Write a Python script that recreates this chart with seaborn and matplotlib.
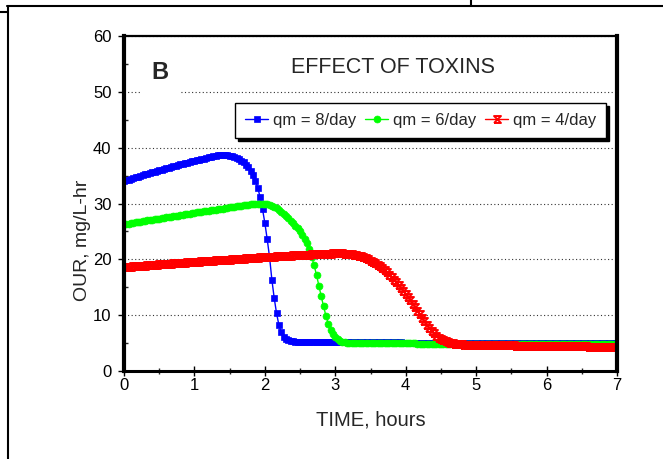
import matplotlib
matplotlib.use("Agg")
import matplotlib.pyplot as plt
from matplotlib.lines import Line2D
from matplotlib.path import Path
from matplotlib.ticker import MultipleLocator
import pandas as pd
import seaborn as sns

# ---------------- data ----------------
TIME_STEP_H = 2 / 60          # model output sampled every 2 minutes
SERIES = ["qm = 8/day", "qm = 6/day", "qm = 4/day"]
COLORS = ["#0000FF", "#00FF00", "#FF0000"]

OUR_QM8 = [
    34.00, 34.14, 34.28, 34.42, 34.55, 34.69, 34.82, 34.95, 35.08, 35.21, 35.34, 35.47, 35.59, 35.72, 35.84,
    35.96, 36.08, 36.20, 36.32, 36.44, 36.56, 36.67, 36.78, 36.90, 37.01, 37.12, 37.23, 37.33, 37.44, 37.55,
    37.65, 37.75, 37.85, 37.95, 38.05, 38.15, 38.25, 38.34, 38.44, 38.53, 38.60, 38.65, 38.68, 38.68, 38.65,
    38.58, 38.48, 38.35, 38.17, 37.95, 37.68, 37.35, 36.95, 36.45, 35.85, 35.10, 34.10, 32.80, 31.10, 29.00,
    26.50, 23.60, 20.40, 16.30, 13.00, 10.30, 8.20, 6.90, 6.10, 5.70, 5.48, 5.36, 5.30, 5.26, 5.24,
    5.22, 5.21, 5.21, 5.21, 5.20, 5.20, 5.20, 5.20, 5.19, 5.19, 5.19, 5.19, 5.18, 5.18, 5.18,
    5.18, 5.17, 5.17, 5.17, 5.17, 5.16, 5.16, 5.16, 5.16, 5.15, 5.15, 5.15, 5.15, 5.14, 5.14,
    5.14, 5.14, 5.13, 5.13, 5.13, 5.13, 5.12, 5.12, 5.12, 5.12, 5.11, 5.11, 5.11, 5.11, 5.10,
    5.10, 5.10, 5.10, 5.09, 5.09, 5.09, 5.09, 5.08, 5.08, 5.08, 5.08, 5.07, 5.07, 5.07, 5.07,
    5.06, 5.06, 5.06, 5.06, 5.05, 5.05, 5.05, 5.05, 5.04, 5.04, 5.04, 5.04, 5.04, 5.03, 5.03,
    5.03, 5.03, 5.03, 5.02, 5.02, 5.02, 5.02, 5.02, 5.02, 5.01, 5.01, 5.01, 5.01, 5.01, 5.01,
    5.01, 5.01, 5.00, 5.00, 5.00, 5.00, 5.00, 5.00, 5.00, 5.00, 4.99, 4.99, 4.99, 4.99, 4.99,
    4.99, 4.99, 4.99, 4.99, 4.98, 4.98, 4.98, 4.98, 4.98, 4.98, 4.98, 4.98, 4.98, 4.97, 4.97,
    4.97, 4.97, 4.97, 4.97, 4.97, 4.97, 4.97, 4.97, 4.96, 4.96, 4.96, 4.96, 4.96, 4.96, 4.96,
    4.96,
]

OUR_QM6 = [
    26.25, 26.32, 26.39, 26.46, 26.54, 26.61, 26.68, 26.75, 26.82, 26.89, 26.96, 27.03, 27.10, 27.17, 27.24,
    27.31, 27.38, 27.44, 27.51, 27.58, 27.65, 27.72, 27.78, 27.85, 27.92, 27.99, 28.05, 28.12, 28.19, 28.25,
    28.32, 28.39, 28.45, 28.52, 28.58, 28.65, 28.71, 28.78, 28.84, 28.91, 28.97, 29.04, 29.10, 29.16, 29.23,
    29.29, 29.35, 29.41, 29.47, 29.53, 29.60, 29.66, 29.72, 29.78, 29.84, 29.89, 29.93, 29.96, 29.98, 29.98,
    29.95, 29.85, 29.72, 29.56, 29.36, 29.12, 28.85, 28.55, 28.20, 27.80, 27.38, 26.95, 26.50, 26.05, 25.55,
    25.00, 24.40, 23.70, 22.90, 21.80, 20.40, 18.90, 17.20, 15.30, 13.40, 11.60, 9.90, 8.50, 7.40, 6.60,
    6.05, 5.70, 5.45, 5.25, 5.15, 5.08, 5.04, 5.02, 5.01, 5.00, 5.00, 5.00, 4.99, 4.99, 4.99,
    4.99, 4.98, 4.98, 4.98, 4.97, 4.97, 4.97, 4.96, 4.96, 4.96, 4.95, 4.95, 4.95, 4.95, 4.94,
    4.94, 4.94, 4.93, 4.93, 4.93, 4.92, 4.92, 4.92, 4.92, 4.91, 4.91, 4.91, 4.90, 4.90, 4.90,
    4.90, 4.89, 4.89, 4.89, 4.89, 4.88, 4.88, 4.88, 4.88, 4.87, 4.87, 4.87, 4.87, 4.86, 4.86,
    4.86, 4.86, 4.86, 4.85, 4.85, 4.85, 4.85, 4.85, 4.84, 4.84, 4.84, 4.84, 4.84, 4.83, 4.83,
    4.83, 4.83, 4.83, 4.83, 4.82, 4.82, 4.82, 4.82, 4.82, 4.82, 4.81, 4.81, 4.81, 4.81, 4.81,
    4.81, 4.81, 4.80, 4.80, 4.80, 4.80, 4.80, 4.80, 4.80, 4.80, 4.79, 4.79, 4.79, 4.79, 4.79,
    4.79, 4.79, 4.79, 4.79, 4.78, 4.78, 4.78, 4.78, 4.78, 4.78, 4.78, 4.78, 4.78, 4.77, 4.77,
    4.77,
]

OUR_QM4 = [
    18.60, 18.63, 18.67, 18.70, 18.73, 18.76, 18.79, 18.83, 18.86, 18.89, 18.92, 18.95, 18.98, 19.02, 19.05,
    19.08, 19.11, 19.14, 19.17, 19.20, 19.23, 19.26, 19.29, 19.33, 19.36, 19.39, 19.42, 19.45, 19.48, 19.51,
    19.54, 19.56, 19.59, 19.62, 19.65, 19.68, 19.71, 19.74, 19.77, 19.80, 19.83, 19.85, 19.88, 19.91, 19.94,
    19.97, 19.99, 20.02, 20.05, 20.08, 20.11, 20.14, 20.16, 20.19, 20.22, 20.25, 20.27, 20.30, 20.33, 20.35,
    20.38, 20.41, 20.43, 20.46, 20.48, 20.51, 20.54, 20.56, 20.59, 20.62, 20.64, 20.67, 20.69, 20.72, 20.74,
    20.77, 20.79, 20.81, 20.84, 20.86, 20.88, 20.90, 20.92, 20.94, 20.96, 20.98, 21.00, 21.02, 21.03, 21.05,
    21.06, 21.07, 21.07, 21.06, 21.04, 21.01, 20.97, 20.91, 20.84, 20.75, 20.64, 20.51, 20.36, 20.19, 20.00,
    19.79, 19.56, 19.31, 19.04, 18.74, 18.41, 18.05, 17.66, 17.25, 16.82, 16.37, 15.90, 15.41, 14.90, 14.38,
    13.84, 13.27, 12.68, 12.06, 11.42, 10.78, 10.14, 9.50, 8.88, 8.28, 7.72, 7.20, 6.74, 6.34, 6.00,
    5.71, 5.48, 5.30, 5.15, 5.04, 4.96, 4.89, 4.84, 4.80, 4.77, 4.74, 4.72, 4.70, 4.69, 4.68,
    4.67, 4.66, 4.66, 4.65, 4.64, 4.64, 4.63, 4.62, 4.62, 4.61, 4.61, 4.60, 4.59, 4.59, 4.58,
    4.58, 4.57, 4.56, 4.56, 4.55, 4.55, 4.54, 4.53, 4.53, 4.52, 4.52, 4.51, 4.50, 4.50, 4.49,
    4.49, 4.48, 4.47, 4.47, 4.46, 4.46, 4.45, 4.44, 4.44, 4.43, 4.43, 4.42, 4.41, 4.41, 4.40,
    4.40, 4.39, 4.39, 4.38, 4.38, 4.37, 4.37, 4.37, 4.36, 4.36, 4.36, 4.35, 4.35, 4.35, 4.35,
    4.35,
]

X_TICKS = [0, 1, 2, 3, 4, 5, 6, 7]
Y_TICKS = [0, 10, 20, 30, 40, 50, 60]
TITLE = "EFFECT OF TOXINS"
PANEL = "B"
XLABEL = "TIME, hours"
YLABEL = "OUR, mg/L-hr"

# ---------------- style ----------------
sns.set_style("white")
plt.rcParams["font.family"] = ["Liberation Sans", "DejaVu Sans"]
plt.rcParams["lines.scale_dashes"] = True

W, H = 663, 459
fig = plt.figure(figsize=(W / 100, H / 100), dpi=100)
fig.patch.set_facecolor("white")

# axes rectangle (pixels of reference): x 124..617, y 36..371
L, R, T, B = 124, 617, 36, 371
ax = fig.add_axes([L / W, 1 - B / H, (R - L) / W, (B - T) / H])

# hourglass-like marker for the red series
hourglass = Path([(-1, -1), (1, 1), (-1, 1), (1, -1), (-1, -1)],
                 [Path.MOVETO, Path.LINETO, Path.LINETO, Path.LINETO, Path.LINETO])

marker_specs = [
    dict(marker="s", markersize=4.6, markerfacecolor=COLORS[0], markeredgewidth=0.5),
    dict(marker="o", markersize=5.0, markerfacecolor=COLORS[1], markeredgewidth=0.5),
    dict(marker=hourglass, markersize=5.0, markerfacecolor="none", markeredgewidth=1.4),
]

for name, vals, col, spec in zip(SERIES, [OUR_QM8, OUR_QM6, OUR_QM4], COLORS, marker_specs):
    df = pd.DataFrame({"time": [i * TIME_STEP_H for i in range(len(vals))], "our": vals})
    sns.lineplot(data=df, x="time", y="our", ax=ax, color=col, linewidth=1.0,
                 estimator=None, sort=False, label=name,
                 markeredgecolor=col, **spec)

ax.set_xlim(X_TICKS[0], X_TICKS[-1])
ax.set_ylim(Y_TICKS[0], Y_TICKS[-1])
ax.set_xticks(X_TICKS)
ax.set_yticks(Y_TICKS)
ax.xaxis.set_minor_locator(MultipleLocator(0.5))
ax.yaxis.set_minor_locator(MultipleLocator(5))

ax.tick_params(axis="x", which="major", direction="inout", length=6.5, width=1.0,
               pad=1.8, labelsize=12, colors="black", bottom=True)
ax.tick_params(axis="x", which="minor", direction="inout", length=4.5, width=1.0, bottom=True)
ax.tick_params(axis="y", which="major", direction="out", length=4, width=1.0,
               pad=5, labelsize=12, colors="black", left=True)
ax.tick_params(axis="y", which="minor", direction="in", length=3, width=1.0, left=True)

ax.yaxis.grid(True, which="major", color="#333333", linestyle=(0, (1, 2.2)), linewidth=0.8)
ax.xaxis.grid(False)
ax.set_axisbelow(True)

for side, lw in [("left", 3.0), ("bottom", 2.2), ("top", 1.6), ("right", 3.0)]:
    ax.spines[side].set_visible(True)
    ax.spines[side].set_color("black")
    ax.spines[side].set_linewidth(lw)

ax.set_xlabel(XLABEL, fontsize=14.5)
ax.set_ylabel(YLABEL, fontsize=14)
ax.xaxis.set_label_coords(0.5, (B - 411) / (B - T))
ax.yaxis.set_label_coords((91 - L) / (R - L), (B - 240) / (B - T))

ax.text(3.82, 54.4, TITLE, ha="center", va="center", fontsize=15.5, zorder=5)
ax.text(0.51, 53.4, PANEL, ha="center", va="center", fontsize=17, fontweight="bold",
        zorder=5, bbox=dict(facecolor="white", edgecolor="none", pad=8))

leg = ax.legend(loc="upper left", bbox_to_anchor=(235 / W, 1 - 103 / H),
                bbox_transform=fig.transFigure, ncol=3, fontsize=12,
                frameon=True, fancybox=False, shadow={"color": "black", "alpha": 1.0},
                borderpad=0.6, borderaxespad=0, handlelength=1.4, handletextpad=0.3,
                columnspacing=0.5, numpoints=1)
leg.get_frame().set_edgecolor("black")
leg.get_frame().set_linewidth(1.0)
leg.get_frame().set_facecolor("white")
leg.set_zorder(6)

# page-crop border lines around the figure
for xs, ys in [
    ([7 / W, 1.0], [1 - 6 / H, 1 - 6 / H]),
    ([7.5 / W, 7.5 / W], [1 - 6 / H, 0.0]),
    ([0.0, 7 / W], [1 - 12 / H, 1 - 12 / H]),
    ([470.5 / W, 470.5 / W], [1.0, 1 - 6 / H]),
]:
    fig.add_artist(Line2D(xs, ys, transform=fig.transFigure, color="black", linewidth=1.5))

fig.savefig("out.png", dpi=100, facecolor="white")
